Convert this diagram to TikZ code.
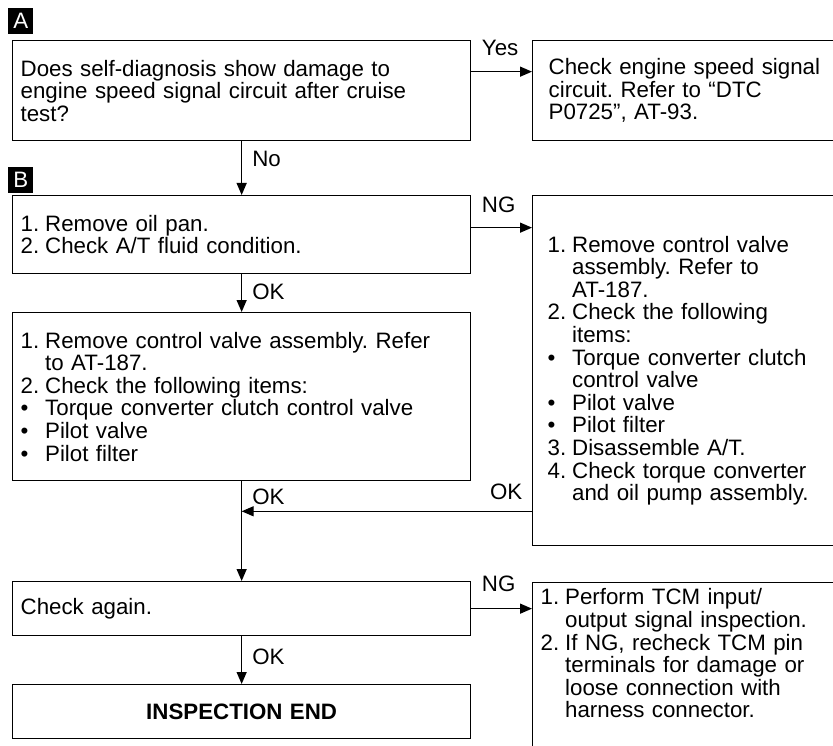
\documentclass[tikz,border=0pt]{standalone}
\usepackage{fontspec}
\setmainfont{Liberation Sans}
\usetikzlibrary{arrows.meta,positioning}

\newcommand{\stepno}[1]{\makebox[1.1em][l]{#1}}
\newcommand{\bul}{\makebox[1.1em][l]{\textbullet}}
\newcommand{\contind}{\hspace*{1.1em}}

\begin{document}
\frenchspacing
\begin{tikzpicture}[
    x=1pt, y=-1pt,
    every node/.append style={font=\fontsize{22.3}{22.6}\selectfont},
    stepbox/.style={
        draw,
        line width=1.3pt,
        anchor=north west,
        align=left,
        inner xsep=8pt
    },
    leftbox/.style={stepbox, text width=442pt},
    rightbox/.style={stepbox, text width=300pt},
    tag/.style={
        fill=black, text=white,
        minimum width=25pt, minimum height=26pt,
        inner sep=0pt, anchor=north west
    },
    flow/.style={-{Triangle[length=12pt,width=10pt]}, line width=1.3pt},
    lbl/.style={inner sep=0pt}
]
\useasboundingbox (0,0) rectangle (833,746);
\clip (0,0) rectangle (833,746);

% Part A
\node[tag] (tagA) at (8,8) {A};
\node[leftbox, minimum height=100pt] (query) at (12,40)
    {Does self-diagnosis show damage to\\
     engine speed signal circuit after cruise\\
     test?};
\node[rightbox, minimum height=100pt, inner xsep=16pt] (signal) at (532,40)
    {Check engine speed signal\\
     circuit. Refer to “DTC\\
     P0725”, AT-93.};

% Part B
\node[tag] (tagB) at (8,167) {B};
\node[leftbox, minimum height=78pt] (oilpan) at (12,195)
    {\stepno{1.}Remove oil pan.\\
     \stepno{2.}Check A/T fluid condition.};
\node[rightbox, minimum height=350pt, inner xsep=15pt] (valvecheck) at (532,195)
    {\stepno{1.}Remove control valve\\
     \contind assembly. Refer to\\
     \contind AT-187.\\
     \stepno{2.}Check the following\\
     \contind items:\\
     \bul Torque converter clutch\\
     \contind control valve\\
     \bul Pilot valve\\
     \bul Pilot filter\\
     \stepno{3.}Disassemble A/T.\\
     \stepno{4.}Check torque converter\\
     \contind and oil pump assembly.};
\node[leftbox, minimum height=168pt] (valve) at (12,312)
    {\stepno{1.}Remove control valve assembly. Refer\\
     \contind to AT-187.\\
     \stepno{2.}Check the following items:\\
     \bul Torque converter clutch control valve\\
     \bul Pilot valve\\
     \bul Pilot filter};
\node[leftbox, minimum height=54pt] (again) at (12,581) {Check again.};
\node[rightbox, inner ysep=6pt] (tcm) at (532,582)
    {\stepno{1.}Perform TCM input/\\
     \contind output signal inspection.\\
     \stepno{2.}If NG, recheck TCM pin\\
     \contind terminals for damage or\\
     \contind loose connection with\\
     \contind harness connector.\par\rule{0pt}{40pt}};
\node[leftbox, minimum height=54pt, align=center,
      font=\fontsize{22.3}{22.6}\selectfont\bfseries] (done) at (12,684)
    {INSPECTION END};

% Connectors
\coordinate (yesA) at ([yshift=19pt]query.east);
\draw[flow] (yesA) -- node[lbl, pos=0, anchor=base west, xshift=10pt, yshift=16pt] {Yes}
    (yesA -| signal.west);
\draw[flow] (query.south) -- node[lbl, pos=0, anchor=north west, xshift=10pt, yshift=-9pt] {No}
    (oilpan.north);

\coordinate (ngA) at ([yshift=7pt]oilpan.east);
\draw[flow] (ngA) -- node[lbl, pos=0, anchor=base west, xshift=10pt, yshift=15pt] {NG}
    (ngA -| valvecheck.west);
\draw[flow] (oilpan.south) -- node[lbl, pos=0, anchor=north west, xshift=10pt, yshift=-9pt] {OK}
    (valve.north);

\coordinate (okjoin) at ([yshift=-30pt]valve.south);
\draw[flow] (valve.south) -- node[lbl, pos=0, anchor=north west, xshift=10pt, yshift=-7pt] {OK}
    (again.north);
\draw[flow] (valvecheck.west |- okjoin) -- node[lbl, pos=0, anchor=base east, xshift=-9pt, yshift=12pt] {OK}
    (okjoin);

\draw[flow] (again.east) -- node[lbl, pos=0, anchor=base west, xshift=10pt, yshift=17pt] {NG}
    (tcm.west |- again.east);
\draw[flow] (again.south) -- node[lbl, pos=0, anchor=north west, xshift=10pt, yshift=-12pt] {OK}
    (done.north);

\end{tikzpicture}
\end{document}
